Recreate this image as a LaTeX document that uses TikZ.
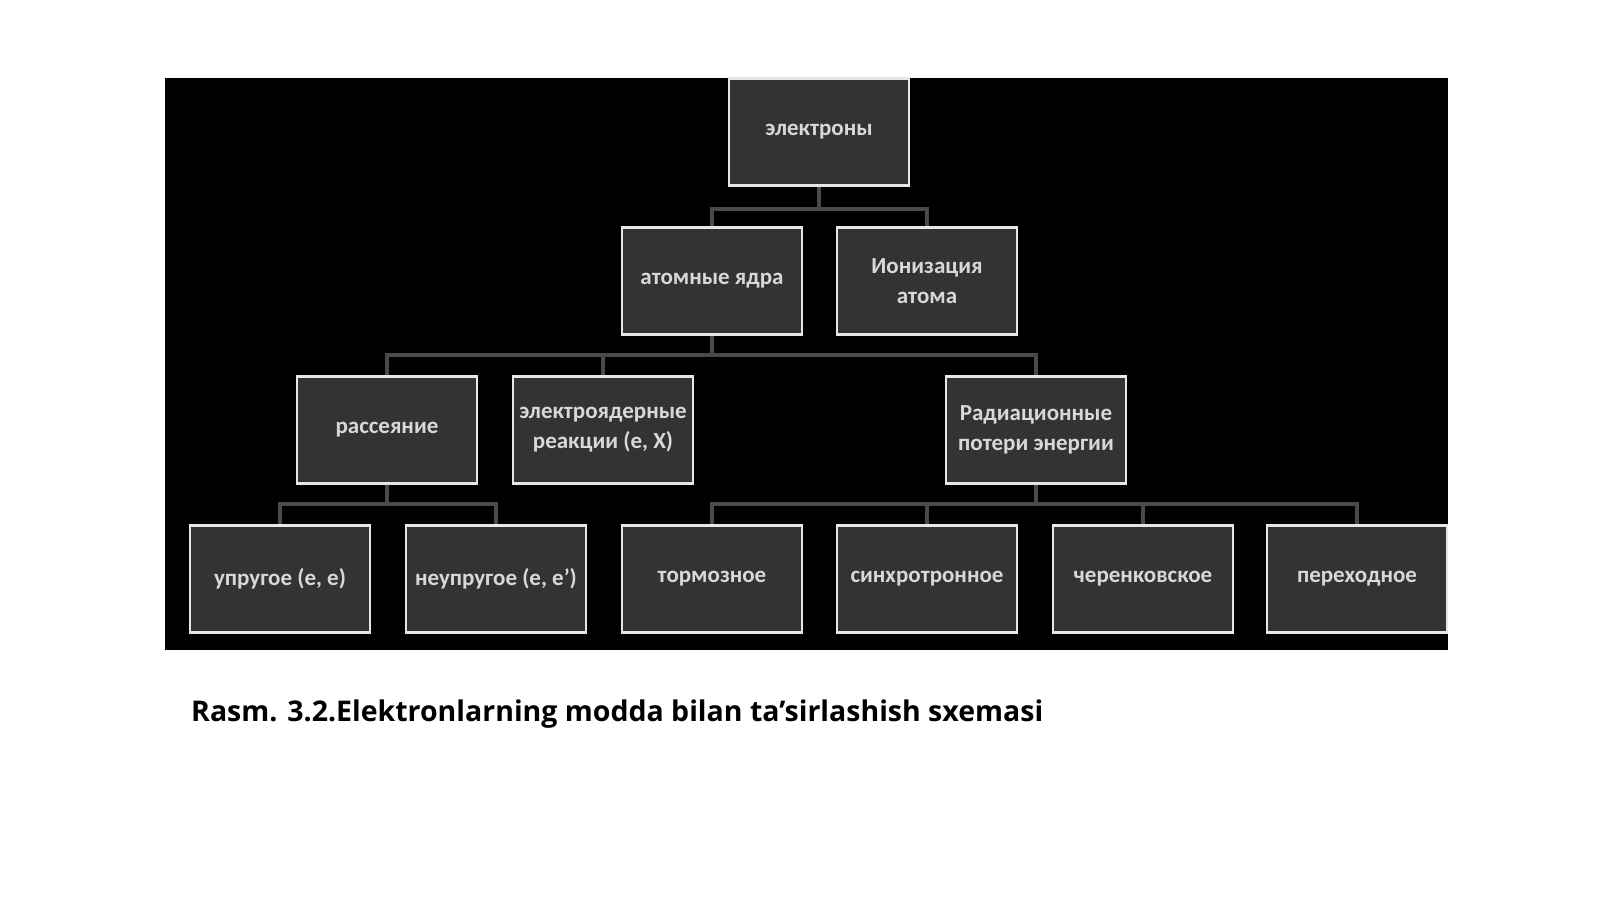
\documentclass[tikz,border=0pt]{standalone}
\usepackage{fontspec}
\setmainfont{Open Sans}
\newfontfamily\boxfont{Carlito}
\definecolor{boxfill}{HTML}{333333}
\definecolor{boxtext}{HTML}{D8D8D8}
\definecolor{boxedge}{HTML}{E6E6E6}
\definecolor{linec}{HTML}{4A4A4A}
\begin{document}
\begin{tikzpicture}[x=1pt,y=-1pt,
  bx/.style={draw=boxedge,line width=2.5pt,fill=boxfill,minimum width=180pt,minimum height=107pt,
    text=boxtext,font=\boxfont\bfseries\fontsize{23}{30}\selectfont,align=center,inner sep=2pt},
  ln/.style={draw=linec,line width=4pt}]
\useasboundingbox (0,0) rectangle (1600,899);
\fill[white] (0,0) rectangle (1600,899);
\fill[black] (165,78) rectangle (1448,650);
\node[bx] (e) at (819,132) {электроны};
\node[bx] (a) at (712,281) {атомные ядра};
\node[bx] (i) at (927,281) {Ионизация\\атома};
\node[bx] (r) at (387,430) {рассеяние};
\node[bx] (x) at (603,430) {электроядерные\\реакции (e, X)};
\node[bx] (p) at (1036,430) {Радиационные\\потери энергии};
\node[bx] (u) at (280,579) {упругое (e, e)};
\node[bx] (n) at (496,579) {неупругое (e, e’)};
\node[bx] (t) at (712,579) {тормозное};
\node[bx] (s) at (927,579) {синхротронное};
\node[bx] (c) at (1143,579) {черенковское};
\node[bx] (h) at (1357,579) {переходное};
\draw[ln] (e.south) -- ++(0,22) -| (a.north);
\draw[ln] (e.south) ++(0,22) -| (i.north);
\draw[ln] (a.south) -- ++(0,19) -| (r.north);
\draw[ln] (a.south) ++(0,19) -| (x.north);
\draw[ln] (a.south) ++(0,19) -| (p.north);
\draw[ln] (r.south) -- ++(0,19) -| (u.north);
\draw[ln] (r.south) ++(0,19) -| (n.north);
\draw[ln] (p.south) -- ++(0,19) -| (t.north);
\draw[ln] (p.south) ++(0,19) -| (s.north);
\draw[ln] (p.south) ++(0,19) -| (c.north);
\draw[ln] (p.south) ++(0,19) -| (h.north);
\node[anchor=west,font=\bfseries\fontsize{28.5}{34}\selectfont,inner sep=0] (cap) at (191,714) {Rasm. 3.2.Elektronlarning modda bilan ta’sirlashish sxemasi};
\end{tikzpicture}
\end{document}
